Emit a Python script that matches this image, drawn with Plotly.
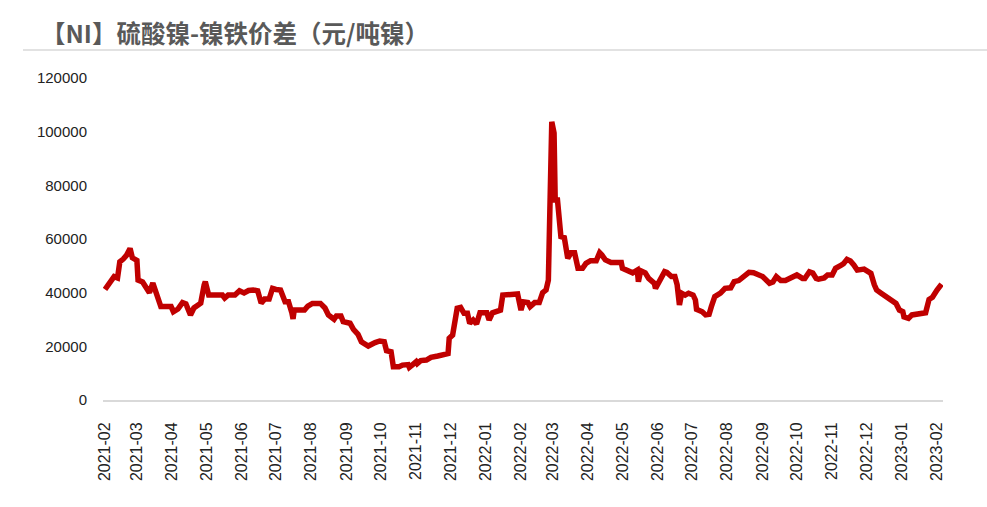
import plotly.graph_objects as go

title_text = "【NI】硫酸镍-镍铁价差（元/吨镍）"

dates = [
    "2021-02-01", "2021-02-09", "2021-02-12", "2021-02-14", "2021-02-17", "2021-02-20", "2021-02-23",
    "2021-02-25", "2021-03-01", "2021-03-02", "2021-03-06", "2021-03-08", "2021-03-12", "2021-03-15",
    "2021-03-17", "2021-03-19", "2021-03-22", "2021-03-31", "2021-04-02", "2021-04-06", "2021-04-10",
    "2021-04-13", "2021-04-17", "2021-04-20", "2021-04-26", "2021-04-29", "2021-04-30", "2021-05-03",
    "2021-05-15", "2021-05-17", "2021-05-20", "2021-05-26", "2021-05-30", "2021-06-03", "2021-06-07",
    "2021-06-11", "2021-06-15", "2021-06-18", "2021-06-21", "2021-06-25", "2021-06-28", "2021-07-01",
    "2021-07-05", "2021-07-09", "2021-07-12", "2021-07-15", "2021-07-16", "2021-07-17", "2021-07-26",
    "2021-07-29", "2021-08-02", "2021-08-09", "2021-08-13", "2021-08-16", "2021-08-21", "2021-08-23",
    "2021-08-27", "2021-08-29", "2021-09-04", "2021-09-07", "2021-09-11", "2021-09-14", "2021-09-18",
    "2021-09-20", "2021-09-26", "2021-09-30", "2021-10-04", "2021-10-06", "2021-10-10", "2021-10-12",
    "2021-10-17", "2021-10-20", "2021-10-25", "2021-10-26", "2021-10-29", "2021-11-01", "2021-11-02",
    "2021-11-05", "2021-11-10", "2021-11-14", "2021-11-20", "2021-11-23", "2021-11-27", "2021-11-29",
    "2021-11-30", "2021-12-03", "2021-12-07", "2021-12-10", "2021-12-13", "2021-12-16", "2021-12-18",
    "2021-12-21", "2021-12-24", "2021-12-27", "2022-01-02", "2022-01-04", "2022-01-07", "2022-01-14",
    "2022-01-16", "2022-01-26", "2022-01-29", "2022-02-01", "2022-02-03", "2022-02-07", "2022-02-09",
    "2022-02-13", "2022-02-17", "2022-02-20", "2022-02-23", "2022-02-25", "2022-02-26", "2022-02-28",
    "2022-03-02", "2022-03-03", "2022-03-05", "2022-03-08", "2022-03-11", "2022-03-14", "2022-03-17",
    "2022-03-20", "2022-03-23", "2022-03-27", "2022-03-30", "2022-04-03", "2022-04-08", "2022-04-11",
    "2022-04-13", "2022-04-16", "2022-04-21", "2022-04-30", "2022-05-01", "2022-05-05", "2022-05-10",
    "2022-05-14", "2022-05-15", "2022-05-17", "2022-05-21", "2022-05-24", "2022-05-29", "2022-05-30",
    "2022-06-02", "2022-06-07", "2022-06-09", "2022-06-13", "2022-06-16", "2022-06-18", "2022-06-20",
    "2022-06-22", "2022-06-25", "2022-06-28", "2022-07-02", "2022-07-04", "2022-07-05", "2022-07-10",
    "2022-07-13", "2022-07-16", "2022-07-18", "2022-07-21", "2022-07-26", "2022-07-30", "2022-08-04",
    "2022-08-07", "2022-08-11", "2022-08-15", "2022-08-20", "2022-08-24", "2022-08-29", "2022-09-01",
    "2022-09-07", "2022-09-10", "2022-09-13", "2022-09-17", "2022-09-21", "2022-09-26", "2022-10-01",
    "2022-10-06", "2022-10-08", "2022-10-12", "2022-10-15", "2022-10-18", "2022-10-20", "2022-10-25",
    "2022-10-28", "2022-11-01", "2022-11-04", "2022-11-09", "2022-11-11", "2022-11-14", "2022-11-17",
    "2022-11-20", "2022-11-23", "2022-11-29", "2022-12-01", "2022-12-05", "2022-12-08", "2022-12-10",
    "2022-12-14", "2022-12-18", "2022-12-22", "2022-12-27", "2022-12-30", "2023-01-02", "2023-01-03",
    "2023-01-07", "2023-01-10", "2023-01-19", "2023-01-22", "2023-01-25", "2023-01-28", "2023-02-01",
    "2023-02-04", "2023-02-05",
]

spread = [
    41200, 46000, 45500, 51500, 52500, 54000, 56500,
    53000, 52000, 44700, 44000, 42800, 40000, 43600,
    41000, 38000, 34800, 34800, 32900, 33900, 36300,
    35800, 31700, 34300, 36100, 42900, 44100, 39100,
    39100, 38000, 39100, 39100, 40700, 39900, 40800,
    41000, 40700, 36100, 37600, 37600, 41600, 41200,
    41000, 36600, 36600, 32400, 30200, 33500, 33500,
    35000, 36000, 36000, 34300, 31700, 30100, 31300,
    31300, 29200, 28600, 26300, 24500, 21700, 20900,
    20100, 21400, 22000, 21700, 18400, 18000, 12400,
    12400, 13000, 13200, 12200, 13200, 14300, 13600,
    14700, 14900, 15900, 16400, 16800, 17100, 17300,
    23000, 24200, 34200, 34500, 32300, 32300, 28600,
    29800, 28300, 32500, 32500, 29800, 32500, 33500,
    39100, 39500, 39500, 33500, 36600, 36300, 34800,
    36300, 36300, 40000, 41000, 44700, 62100, 103700,
    99500, 74500, 74500, 60900, 60500, 52800, 54900,
    54900, 49100, 49100, 50900, 51900, 51900, 54900,
    54000, 52200, 51200, 51200, 49100, 48400, 47400,
    48400, 44100, 48200, 47400, 45300, 43500, 41600,
    44100, 47800, 47500, 46000, 46000, 42900, 35400,
    39800, 39100, 39800, 39100, 37300, 33800, 32900,
    31700, 31900, 34800, 38500, 39800, 41600, 41800,
    44100, 44500, 46200, 47600, 47400, 46600, 46000,
    43500, 44000, 46000, 44500, 44500, 45700, 46600,
    45300, 45300, 47800, 47300, 45300, 45000, 45500,
    46600, 46600, 49100, 50300, 50800, 52400, 51800,
    50300, 48400, 48800, 48400, 47200, 42900, 41000,
    39800, 38700, 37300, 36000, 33500, 32900, 31000,
    30400, 31700, 32000, 32500, 37500, 38300, 41000,
    42900, 43200,
]

y_ticks = [0, 20000, 40000, 60000, 80000, 100000, 120000]

fig = go.Figure()
fig.add_trace(go.Scatter(
    x=dates, y=spread, mode="lines",
    line=dict(color="#C00000", width=5.5),
    hoverinfo="skip", showlegend=False,
))

fig.update_layout(
    width=987, height=507,
    margin=dict(l=103, r=44, t=78, b=107),
    paper_bgcolor="white", plot_bgcolor="white",
    font=dict(family="Liberation Sans, Arial, sans-serif", size=14, color="#404040"),
    xaxis=dict(
        type="date",
        range=["2021-01-30 06:00", "2023-02-06 06:00"],
        tick0="2021-02-01", dtick="M1", tickformat="%Y-%m",
        tickangle=-90, showgrid=False, zeroline=False,
        showline=True, linecolor="#d9d9d9", linewidth=2,
        ticks="", ticklabelstandoff=14,
        tickfont=dict(size=16, color="#222222"),
    ),
    yaxis=dict(
        range=[0, 120000], tickvals=y_ticks,
        ticktext=[str(v) for v in y_ticks],
        showgrid=False, zeroline=False, showline=False,
        ticks="", ticklabelstandoff=15,
        tickfont=dict(size=15, color="#222222"),
    ),
    annotations=[dict(
        text="<b>" + title_text + "</b>", xref="paper", yref="paper",
        x=(39 - 103) / 840, y=1 + (78 - 32) / 322,
        xanchor="left", yanchor="middle", showarrow=False,
        font=dict(family="Noto Sans CJK SC", size=24.5, color="#595959"),
    )],
    shapes=[dict(
        type="line", xref="paper", yref="paper",
        x0=(23 - 103) / 840, x1=(987 - 103) / 840,
        y0=1 + (78 - 50) / 322, y1=1 + (78 - 50) / 322,
        line=dict(color="#d9d9d9", width=1.5),
    )],
)

fig.write_html("out.html")
